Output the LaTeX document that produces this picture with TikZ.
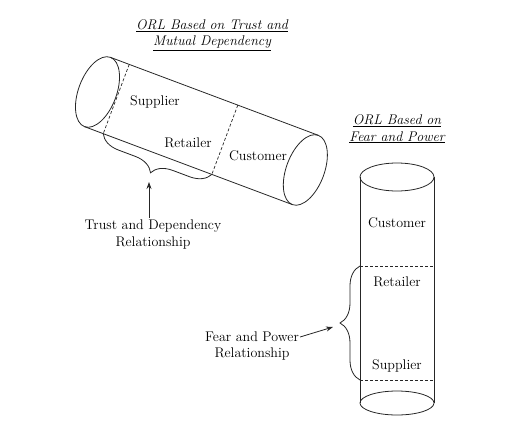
\documentclass[tikz,border=0pt]{standalone}
\usetikzlibrary{decorations.pathreplacing,arrows.meta}
\def\lefttube{(0,0) ellipse [x radius=19, y radius=37]}
\def\righttube{(222,0) ellipse [x radius=19, y radius=37]}
\def\toptube{(397,177) ellipse [x radius=37, y radius=14]}
\def\bottomtube{(397,403) ellipse [x radius=37, y radius=12]}
\colorlet{tube edge}{black!85}
\tikzset{tube/.style={draw=tube edge, line width=0.8pt},
	split/.style={draw=tube edge, line width=0.7pt, dash pattern=on 3pt off 2pt},
	bracket/.style={draw=tube edge, line width=0.8pt, decorate, decoration={brace, amplitude=20pt}},
	pointer/.style={draw=tube edge, line width=0.8pt, -{Stealth[length=7pt, width=5pt]}},
	word/.style={font=\fontsize{14}{17}\selectfont, inner sep=1pt, align=center},
	heading/.style={font=\fontsize{14}{16.5}\selectfont\itshape, inner sep=1pt, align=center}}

\begin{document}
\begin{tikzpicture}[x=1pt,y=-1pt]
		\useasboundingbox (0,0) rectangle (507,429);
		\node[heading] (trusthead) at (212,35) {\underline{ORL Based on Trust and}\\\underline{Mutual Dependency}};
		\begin{scope}[shift={(97.5,92)}, rotate=-20.56]
			\draw[tube] \lefttube;
			\draw[tube] \righttube;
			\draw[tube] (0,-37) -- (222,-37);
			\draw[tube] (0,37) -- (222,37);
			\draw[split] (20,-37) -- (20,37) coordinate (supend);
			\draw[split] (136,-37) -- (136,37) coordinate (retend);
			\end{scope}
		\node[word] (sup1) at (155,102) {Supplier};
		\node[word] (ret1) at (188,143) {Retailer};
		\node[word] (cus1) at (258,156) {Customer};
		\draw[bracket] (retend) -- (supend);
		\coordinate (trusttip) at (149,182);
		\node[word] (trust) at (153,234) {Trust and Dependency\\Relationship};
		\draw[pointer] (trust.north -| trusttip) -- (trusttip);
		
		\node[heading] (fearhead) at (397,129) {\underline{ORL Based on}\\\underline{Fear and Power}};
		\draw[tube] \toptube;
		\draw[tube] \bottomtube;
		\draw[tube] (360,177) coordinate (lt) -- (360,403) coordinate (lb);
		\draw[tube] (434,177) coordinate (rt) -- (434,403) coordinate (rb);
		\draw[split] (360,266) coordinate (ret2l) -- (434,266);
		\draw[split] (360,380) coordinate (sup2l) -- (434,380);
		\node[word] (cus2) at (397,223) {Customer};
		\node[word] (ret2) at (397,282) {Retailer};
		\node[word] (sup2) at (397,366) {Supplier};
		\draw[bracket] (sup2l) -- (ret2l);
		\coordinate (feartip) at (333,327);
		\node[word] (fear1) at (252,337) {Fear and Power};
		\node[word] (fear2) at (252,354) {Relationship};
		\draw[pointer] (fear1.east) -- (feartip);
		\end{tikzpicture}
\end{document}
